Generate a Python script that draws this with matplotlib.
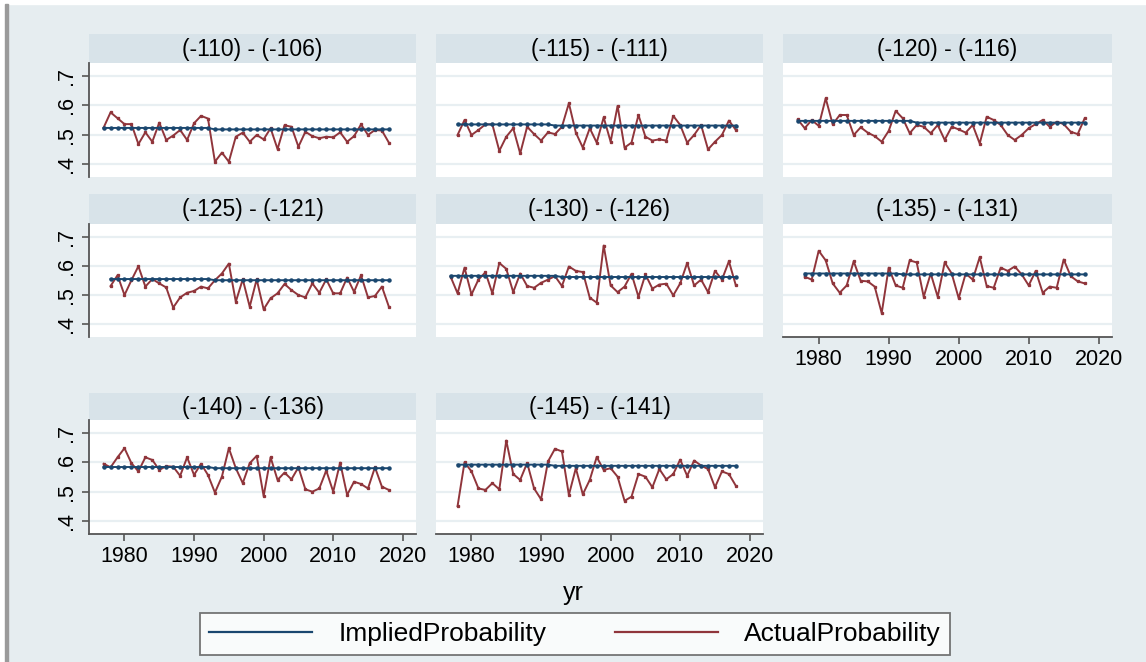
import matplotlib.pyplot as plt
from matplotlib.lines import Line2D
from matplotlib.patches import Rectangle

plt.rcParams['font.family'] = ['Liberation Sans', 'DejaVu Sans']

BG = '#e6edf0'
STRIP = '#d8e3e9'
GRID = '#e8eff2'
BLUE = '#1a476f'
RED = '#90353b'

yrs77 = list(range(1977, 2019))
yrs78 = list(range(1978, 2019))

titles = ['(-110) - (-106)', '(-115) - (-111)', '(-120) - (-116)',
          '(-125) - (-121)', '(-130) - (-126)', '(-135) - (-131)',
          '(-140) - (-136)', '(-145) - (-141)']
years = [yrs77, yrs78, yrs77, yrs78, yrs77, yrs78, yrs77, yrs78]

implied_110 = [0.523, 0.523, 0.523, 0.523, 0.523, 0.523, 0.523, 0.523, 0.523, 0.523, 0.523,
               0.523, 0.523, 0.523, 0.523, 0.523, 0.518, 0.518, 0.518, 0.518, 0.518, 0.518,
               0.518, 0.518, 0.518, 0.518, 0.518, 0.518, 0.518, 0.518, 0.518, 0.518, 0.518,
               0.518, 0.518, 0.518, 0.518, 0.518, 0.518, 0.518, 0.518, 0.518]
actual_110 = [0.524, 0.576, 0.556, 0.536, 0.536, 0.468, 0.508, 0.476, 0.541, 0.482, 0.497,
              0.516, 0.482, 0.539, 0.564, 0.555, 0.408, 0.439, 0.408, 0.493, 0.507, 0.476,
              0.499, 0.484, 0.522, 0.451, 0.532, 0.527, 0.459, 0.510, 0.495, 0.488, 0.493,
              0.491, 0.508, 0.476, 0.495, 0.535, 0.499, 0.516, 0.514, 0.473]

implied_115 = [0.535, 0.535, 0.535, 0.535, 0.535, 0.535, 0.535, 0.535, 0.535, 0.535, 0.535,
               0.535, 0.535, 0.535, 0.531, 0.531, 0.531, 0.531, 0.531, 0.531, 0.531, 0.531,
               0.531, 0.531, 0.531, 0.531, 0.531, 0.531, 0.531, 0.531, 0.531, 0.531, 0.531,
               0.531, 0.531, 0.531, 0.531, 0.531, 0.531, 0.531, 0.531]
actual_115 = [0.499, 0.550, 0.499, 0.516, 0.535, 0.535, 0.445, 0.493, 0.522, 0.436, 0.527,
              0.502, 0.480, 0.508, 0.502, 0.527, 0.607, 0.507, 0.456, 0.522, 0.473, 0.559,
              0.476, 0.598, 0.456, 0.473, 0.567, 0.493, 0.480, 0.484, 0.480, 0.564, 0.533,
              0.473, 0.499, 0.533, 0.450, 0.476, 0.499, 0.548, 0.516]

implied_120 = [0.547, 0.547, 0.547, 0.547, 0.547, 0.547, 0.547, 0.547, 0.547, 0.547, 0.547,
               0.547, 0.547, 0.547, 0.547, 0.547, 0.547, 0.541, 0.541, 0.541, 0.541, 0.541,
               0.541, 0.541, 0.541, 0.541, 0.541, 0.541, 0.541, 0.541, 0.541, 0.541, 0.541,
               0.541, 0.541, 0.541, 0.541, 0.541, 0.541, 0.541, 0.541, 0.541]
actual_120 = [0.552, 0.522, 0.550, 0.530, 0.624, 0.535, 0.567, 0.567, 0.499, 0.525, 0.507,
              0.495, 0.476, 0.513, 0.581, 0.556, 0.505, 0.533, 0.527, 0.505, 0.533, 0.482,
              0.527, 0.518, 0.507, 0.533, 0.470, 0.561, 0.550, 0.533, 0.499, 0.482, 0.499,
              0.522, 0.536, 0.550, 0.527, 0.544, 0.536, 0.510, 0.502, 0.556]

implied_125 = [0.555, 0.555, 0.555, 0.555, 0.555, 0.555, 0.555, 0.555, 0.555, 0.555, 0.555,
               0.555, 0.555, 0.555, 0.555, 0.551, 0.551, 0.551, 0.551, 0.551, 0.551, 0.551,
               0.551, 0.551, 0.551, 0.551, 0.551, 0.551, 0.551, 0.551, 0.551, 0.551, 0.551,
               0.551, 0.551, 0.551, 0.551, 0.551, 0.551, 0.551, 0.551]
actual_125 = [0.531, 0.568, 0.500, 0.551, 0.599, 0.529, 0.555, 0.540, 0.526, 0.457, 0.492,
              0.508, 0.514, 0.529, 0.523, 0.551, 0.574, 0.608, 0.477, 0.554, 0.460, 0.554,
              0.451, 0.489, 0.506, 0.538, 0.517, 0.500, 0.492, 0.540, 0.508, 0.554, 0.506,
              0.506, 0.560, 0.511, 0.568, 0.492, 0.497, 0.529, 0.460]

implied_130 = [0.566, 0.566, 0.566, 0.566, 0.566, 0.566, 0.566, 0.566, 0.566, 0.566, 0.566,
               0.566, 0.566, 0.566, 0.566, 0.566, 0.562, 0.562, 0.562, 0.562, 0.562, 0.562,
               0.562, 0.562, 0.562, 0.562, 0.562, 0.562, 0.562, 0.562, 0.562, 0.562, 0.562,
               0.562, 0.562, 0.562, 0.562, 0.562, 0.562, 0.562, 0.562, 0.562]
actual_130 = [0.563, 0.506, 0.594, 0.502, 0.553, 0.578, 0.506, 0.610, 0.590, 0.510, 0.574,
              0.531, 0.525, 0.542, 0.553, 0.565, 0.531, 0.598, 0.583, 0.579, 0.491, 0.474,
              0.670, 0.533, 0.510, 0.529, 0.573, 0.494, 0.571, 0.522, 0.536, 0.539, 0.499,
              0.540, 0.610, 0.533, 0.553, 0.510, 0.583, 0.553, 0.616, 0.533]

implied_135 = [0.574, 0.574, 0.574, 0.574, 0.574, 0.574, 0.574, 0.574, 0.574, 0.574, 0.574,
               0.574, 0.574, 0.574, 0.571, 0.571, 0.571, 0.571, 0.571, 0.571, 0.571, 0.571,
               0.571, 0.571, 0.571, 0.571, 0.571, 0.571, 0.571, 0.571, 0.571, 0.571, 0.571,
               0.571, 0.571, 0.571, 0.571, 0.571, 0.571, 0.571, 0.571]
actual_135 = [0.563, 0.553, 0.652, 0.619, 0.540, 0.508, 0.533, 0.616, 0.549, 0.547, 0.529,
              0.438, 0.594, 0.533, 0.525, 0.619, 0.612, 0.494, 0.574, 0.494, 0.612, 0.574,
              0.489, 0.574, 0.553, 0.630, 0.531, 0.525, 0.594, 0.583, 0.598, 0.571, 0.533,
              0.583, 0.508, 0.529, 0.525, 0.622, 0.565, 0.547, 0.540]

implied_140 = [0.584, 0.584, 0.584, 0.584, 0.584, 0.584, 0.584, 0.584, 0.584, 0.584, 0.584,
               0.584, 0.584, 0.584, 0.584, 0.584, 0.580, 0.580, 0.580, 0.580, 0.580, 0.580,
               0.580, 0.580, 0.580, 0.580, 0.580, 0.580, 0.580, 0.580, 0.580, 0.580, 0.580,
               0.580, 0.580, 0.580, 0.580, 0.580, 0.580, 0.580, 0.580, 0.580]
actual_140 = [0.595, 0.583, 0.617, 0.648, 0.597, 0.569, 0.617, 0.608, 0.574, 0.587, 0.585,
              0.554, 0.617, 0.557, 0.595, 0.557, 0.497, 0.551, 0.648, 0.580, 0.529, 0.597,
              0.622, 0.485, 0.617, 0.540, 0.565, 0.542, 0.583, 0.508, 0.500, 0.511, 0.572,
              0.500, 0.599, 0.489, 0.534, 0.526, 0.511, 0.583, 0.517, 0.506]

implied_145 = [0.592, 0.592, 0.592, 0.592, 0.592, 0.592, 0.592, 0.592, 0.592, 0.592, 0.592,
               0.592, 0.592, 0.592, 0.588, 0.588, 0.588, 0.588, 0.588, 0.588, 0.588, 0.588,
               0.588, 0.588, 0.588, 0.588, 0.588, 0.588, 0.588, 0.588, 0.588, 0.588, 0.588,
               0.588, 0.588, 0.588, 0.588, 0.588, 0.588, 0.588, 0.588]
actual_145 = [0.451, 0.600, 0.569, 0.511, 0.506, 0.529, 0.508, 0.674, 0.560, 0.540, 0.598,
              0.511, 0.474, 0.603, 0.646, 0.637, 0.489, 0.580, 0.491, 0.540, 0.618, 0.574,
              0.580, 0.551, 0.469, 0.483, 0.560, 0.551, 0.515, 0.577, 0.542, 0.560, 0.609,
              0.554, 0.606, 0.589, 0.577, 0.515, 0.569, 0.560, 0.520]

implied = [implied_110, implied_115, implied_120, implied_125,
           implied_130, implied_135, implied_140, implied_145]
actual = [actual_110, actual_115, actual_120, actual_125,
          actual_130, actual_135, actual_140, actual_145]

yticks = [0.4, 0.5, 0.6, 0.7]
ytick_labels = ['.4', '.5', '.6', '.7']
xticks = [1980, 1990, 2000, 2010, 2020]

W, H = 1146, 662
fig = plt.figure(figsize=(W / 100, H / 100), dpi=100, facecolor=BG)

# white margin at top/left and the grey frame edge
fig.add_artist(Rectangle((0, 1 - 4 / H), 1, 4 / H, transform=fig.transFigure,
                         color='white', zorder=0))
fig.add_artist(Rectangle((0, 0), 5 / W, 1, transform=fig.transFigure,
                         color='white', zorder=0))
fig.add_artist(Rectangle((5 / W, 0), 3 / W, 1 - 4 / H, transform=fig.transFigure,
                         color='#9a9a9a', zorder=1))


def box(x0, x1, y0, y1):
    return [x0 / W, 1 - y1 / H, (x1 - x0) / W, (y1 - y0) / H]


cols = [(89, 416), (436, 763), (783, 1112)]
rows = [(34, 63, 177), (194, 224, 337), (393, 420, 534)]
bottom_panels = [5, 6, 7]

for i in range(8):
    r, c = divmod(i, 3)
    x0, x1 = cols[c]
    s0, p0, p1 = rows[r]

    st = fig.add_axes(box(x0, x1, s0, p0))
    st.set_facecolor(STRIP)
    st.set_xticks([])
    st.set_yticks([])
    for sp in st.spines.values():
        sp.set_visible(False)
    st.text(0.5, 0.47, titles[i], ha='center', va='center', fontsize=16.5,
            transform=st.transAxes)

    ax = fig.add_axes(box(x0, x1, p0, p1))
    ax.set_facecolor('white')
    ax.plot(years[i], implied[i], color=BLUE, lw=1.4, marker='o', ms=2.2,
            mec=BLUE, mfc=BLUE, zorder=3)
    ax.plot(years[i], actual[i], color=RED, lw=1.4, marker='s', ms=1.4,
            mec=RED, mfc=RED, zorder=2)
    ax.set_xlim(1974.9, 2021.9)
    ax.set_ylim(0.356, 0.744)
    ax.set_yticks(yticks)
    ax.set_xticks(xticks)
    ax.grid(axis='y', color=GRID, lw=1.6)
    ax.set_axisbelow(True)
    for sp in ['top', 'right']:
        ax.spines[sp].set_visible(False)
    ax.tick_params(colors='#555555', length=5, width=1.2, labelcolor='black',
                   labelsize=15.5)

    if c == 0:
        ax.set_yticklabels(ytick_labels, rotation=90, va='center')
        ax.spines['left'].set_color('#555555')
        ax.spines['left'].set_linewidth(1.3)
    else:
        ax.spines['left'].set_visible(False)
        ax.tick_params(axis='y', left=False, labelleft=False)

    if i in bottom_panels:
        ax.spines['bottom'].set_color('#555555')
        ax.spines['bottom'].set_linewidth(1.3)
    else:
        ax.spines['bottom'].set_visible(False)
        ax.tick_params(axis='x', bottom=False, labelbottom=False)

fig.text(573 / W, 1 - 593 / H, 'yr', ha='center', va='center', fontsize=18)

handles = [Line2D([], [], color=BLUE, lw=1.6), Line2D([], [], color=RED, lw=1.6)]
leg = fig.legend(handles, ['ImpliedProbability', 'ActualProbability'],
                 loc='center', bbox_to_anchor=(575 / W, 1 - 634 / H), ncol=2,
                 fontsize=19, frameon=True, fancybox=False, edgecolor='#555555',
                 handlelength=3.9, handletextpad=1.0, columnspacing=2.6,
                 borderpad=0.35, borderaxespad=0)
leg.get_frame().set_linewidth(1.3)

fig.savefig('out.png', dpi=100, facecolor=BG)
